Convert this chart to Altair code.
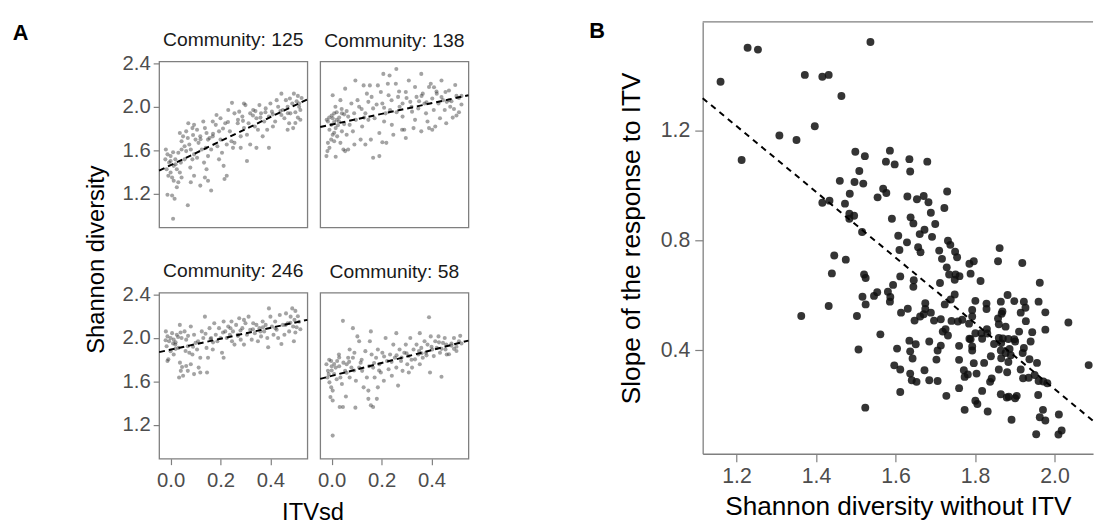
import altair as alt
import pandas as pd

# ---------------- Panel A data (ITVsd, Shannon diversity) ----------------
communities = ["125", "138", "246", "58"]

c125 = [(-0.019,1.606),(-0.0125,1.561),(-0.021,1.515),(-0.006,1.485),(-0.016,1.424),(0.0,1.394),(-0.009,1.364),
(0.006,1.348),(0.0125,1.318),(-0.0125,1.188),(0.006,1.182),(0.016,1.152),(0.01,0.968),(0.069,1.091),(0.0,1.545),
(0.019,1.515),(0.031,1.576),(0.0125,1.455),(0.025,1.424),(0.037,1.394),(0.044,1.348),(0.031,1.303),(0.025,1.258),
(0.041,1.485),(0.056,1.515),(0.044,1.606),(0.037,1.758),(0.05,1.727),(0.0625,1.773),(0.069,1.712),(0.044,1.682),
(0.056,1.636),(0.075,1.652),(0.081,1.606),(0.094,1.561),(0.0875,1.515),(0.079,1.439),(0.094,1.364),(0.081,1.303),
(0.119,1.273),(0.071,1.848),(0.094,1.833),(0.106,1.788),(0.119,1.727),(0.112,1.667),(0.125,1.606),(0.1,1.697),
(0.131,1.864),(0.1375,1.803),(0.144,1.758),(0.15,1.697),(0.141,1.621),(0.15,1.545),(0.134,1.485),(0.144,1.424),
(0.1375,1.348),(0.15,1.318),(0.1625,1.227),(0.106,1.530),(0.0875,1.803),(0.0625,1.591),(0.156,1.712),(0.169,1.727),
(0.184,1.924),(0.181,1.833),(0.194,1.773),(0.2,1.697),(0.1875,1.636),(0.206,1.576),(0.194,1.515),(0.2125,1.455),
(0.225,1.364),(0.216,1.333),(0.231,1.970),(0.246,2.036),(0.219,1.848),(0.2375,1.773),(0.244,1.682),(0.225,1.652),
(0.25,1.621),(0.169,1.864),(0.2,1.894),(0.1625,1.606),(0.256,1.939),(0.275,1.955),(0.269,1.848),(0.2875,1.909),
(0.294,1.803),(0.306,1.742),(0.281,1.727),(0.319,1.939),(0.3,2.015),(0.3125,1.848),(0.331,1.970),(0.344,1.894),
(0.3375,1.818),(0.306,1.500),(0.319,1.652),(0.281,1.621),(0.256,1.667),(0.294,2.03),(0.356,2.015),(0.3625,1.939),
(0.381,1.985),(0.394,1.909),(0.375,1.864),(0.4,2.03),(0.406,1.955),(0.419,1.864),(0.431,2.0),(0.444,1.924),
(0.394,1.621),(0.41,1.818),(0.369,1.727),(0.35,1.788),(0.387,1.788),(0.344,1.621),(0.444,2.121),(0.425,2.061),
(0.45,1.970),(0.456,1.894),(0.469,2.0),(0.475,1.848),(0.48,1.939),(0.4875,2.03),(0.491,1.803),(0.494,2.121),
(0.462,2.061),(0.478,2.076),(0.469,1.788),(0.50,1.95),(0.505,2.05),(0.51,1.9),(0.515,2.0),(0.52,1.97),(0.525,2.08),
(0.51,2.1),(0.52,1.88),(0.50,1.85),(0.515,2.03),(0.27,1.88),(0.33,1.92),(0.36,1.90),(0.41,1.93),(0.44,1.96),
(0.29,1.87),(0.38,1.95),(0.21,1.80),(0.17,1.75),(0.12,1.70),(0.09,1.74),(0.23,1.86),(0.34,1.96),(0.47,1.94),
(0.0,1.50),(0.01,1.58),(0.02,1.47)]

c138 = [(-0.021,1.545),(-0.017,1.591),(-0.009,1.621),(-0.015,1.667),(-0.002,1.697),(0.004,1.742),(-0.009,1.788),
(-0.015,1.864),(0.004,1.894),(0.01,1.939),(-0.002,1.833),(0.016,1.803),(0.022,1.727),(0.01,1.682),(0.016,1.539),
(0.004,2.106),(0.035,2.061),(0.041,1.939),(0.029,1.864),(0.041,1.773),(0.035,1.667),(0.047,1.606),(0.054,1.591),
(0.066,1.606),(0.06,1.742),(0.072,1.833),(0.066,1.909),(0.079,2.03),(0.054,2.167),(0.095,2.242),(0.085,1.773),
(0.097,1.879),(0.11,2.0),(0.1035,2.061),(0.116,1.697),(0.122,1.818),(0.135,1.939),(0.128,2.197),(0.141,2.121),
(0.147,2.045),(0.091,1.652),(0.135,1.652),(0.147,1.879),(0.153,2.197),(0.16,2.091),(0.166,1.985),(0.172,1.894),
(0.185,2.197),(0.197,2.136),(0.203,2.03),(0.21,1.864),(0.191,1.758),(0.157,1.697),(0.166,1.530),(0.191,1.545),
(0.203,1.673),(0.219,1.667),(0.207,2.303),(0.232,2.288),(0.228,2.106),(0.234,1.970),(0.241,1.833),(0.216,1.939),
(0.247,1.742),(0.225,2.212),(0.259,2.348),(0.257,2.212),(0.266,2.091),(0.272,2.0),(0.284,1.909),(0.297,2.136),
(0.309,2.242),(0.315,2.045),(0.322,1.955),(0.291,1.788),(0.282,1.788),(0.297,1.712),(0.334,1.879),(0.34,2.091),
(0.347,1.985),(0.328,1.803),(0.284,2.03),(0.334,2.182),(0.359,2.303),(0.365,2.121),(0.372,2.03),(0.378,1.939),
(0.384,1.864),(0.39,2.182),(0.397,2.212),(0.403,2.076),(0.409,1.970),(0.415,1.818),(0.421,2.121),(0.428,2.03),
(0.434,1.894),(0.44,2.242),(0.446,2.061),(0.403,1.788),(0.359,1.773),(0.39,1.803),(0.453,1.970),(0.456,2.136),
(0.459,1.848),(0.461,2.045),(0.48,2.05),(0.49,1.98),(0.50,2.1),(0.51,1.95),(0.52,2.02),(0.50,1.92),(0.47,2.15),
(0.51,2.08),(0.485,1.9),(0.52,2.1),(0.495,2.2),(0.475,2.0),(0.02,1.88),(0.06,1.96),(0.12,1.98),(0.18,2.02),
(0.24,2.06),(0.30,2.08),(0.36,2.1),(0.42,2.14),(0.05,1.84),(0.13,1.90),(0.26,1.95),(0.32,2.0),(0.38,2.04),
(0.44,2.09),(0.09,1.94),(0.21,1.99),(0.27,2.14),(0.35,2.05),(0.41,2.18),(0.47,2.06),(0.01,1.76),
(0.0,1.92),(0.01,1.86),(0.02,1.95),(0.03,1.9),(0.04,1.98),(-0.01,1.9),(0.05,1.93),(0.025,1.83),(-0.02,1.88),
(0.015,2.0)]

c246 = [(-0.019,2.061),(-0.0125,2.015),(-0.006,1.970),(-0.016,1.924),(0.0,1.879),(-0.009,1.803),(-0.0125,1.788),
(0.006,2.045),(0.0125,1.985),(0.019,1.939),(0.025,2.03),(0.031,1.909),(0.037,2.121),(0.044,2.0),(0.0375,1.773),
(0.041,1.697),(0.034,1.636),(0.05,1.652),(0.046,1.733),(0.0125,1.848),(0.056,2.061),(0.0625,1.985),(0.069,1.924),
(0.075,1.864),(0.0625,1.742),(0.069,1.697),(0.081,1.758),(0.081,2.106),(0.094,2.03),(0.1,1.955),(0.106,1.894),
(0.094,1.667),(0.1125,1.727),(0.119,1.818),(0.125,2.061),(0.131,2.0),(0.1375,2.197),(0.144,1.909),(0.15,1.818),
(0.119,1.682),(0.146,1.682),(0.0875,1.848),(0.156,2.091),(0.1625,2.0),(0.169,1.894),(0.175,2.136),(0.181,2.03),
(0.1875,1.970),(0.194,2.091),(0.2,2.0),(0.206,1.864),(0.2125,1.818),(0.2125,2.152),(0.219,2.061),(0.225,2.0),
(0.231,2.106),(0.2375,2.03),(0.244,2.152),(0.246,1.970),(0.25,2.061),(0.256,1.939),(0.2625,2.121),(0.269,2.03),
(0.275,2.182),(0.281,1.985),(0.2875,2.091),(0.294,1.939),(0.3,2.136),(0.306,2.03),(0.3125,2.197),(0.319,2.076),
(0.325,1.985),(0.331,2.136),(0.3375,2.045),(0.344,2.121),(0.35,1.970),(0.294,2.167),(0.356,2.091),(0.3625,2.015),
(0.369,2.152),(0.375,2.061),(0.381,2.121),(0.3875,2.0),(0.391,1.915),(0.394,2.273),(0.4,2.197),(0.406,2.106),
(0.4125,2.03),(0.419,2.152),(0.425,2.076),(0.431,2.0),(0.4375,2.212),(0.444,1.945),(0.45,2.121),(0.456,2.03),
(0.4625,2.227),(0.469,2.136),(0.475,2.061),(0.481,2.197),(0.4875,2.273),(0.491,2.106),(0.494,1.970),(0.4965,2.167),
(0.50,2.25),(0.51,2.2),(0.505,2.1),(0.515,2.15),(0.52,2.08),(0.50,2.05),(0.01,1.95),(0.03,2.01),(0.07,2.02),
(0.11,1.97),(0.14,2.04),(0.17,1.96),(0.21,2.05),(0.24,2.09),(0.28,2.07),(0.33,2.08),(0.37,2.1),(0.42,2.09),
(0.46,2.12),(0.09,1.92),(0.16,1.99),(0.27,2.02),(0.36,2.06),(0.48,2.14),(0.02,1.9),(0.06,1.88),
(-0.02,1.98),(0.0,2.0),(0.02,1.96),(0.04,2.05)]

c58 = [(-0.021,1.758),(-0.015,1.697),(-0.017,1.636),(-0.009,1.591),(-0.002,1.545),(0.004,1.515),(-0.005,1.455),
(0.004,1.424),(0.004,1.10),(0.01,1.667),(0.016,1.727),(0.022,1.788),(0.029,1.848),(0.035,1.636),(0.041,1.576),
(0.032,1.364),(0.045,1.364),(0.045,2.158),(0.047,1.773),(-0.002,1.788),(-0.012,1.667),(0.054,1.697),(0.06,1.758),
(0.066,1.818),(0.072,1.636),(0.079,1.727),(0.085,2.091),(0.091,1.864),(0.097,1.606),(0.103,2.015),(0.11,1.970),
(0.116,1.773),(0.122,1.697),(0.095,1.358),(0.057,1.461),(0.128,1.545),(0.135,1.879),(0.141,1.636),(0.147,1.515),
(0.072,1.894),(0.085,1.818),(0.11,1.727),(0.153,1.970),(0.157,2.061),(0.147,1.439),(0.157,1.379),(0.166,1.364),
(0.181,1.439),(0.16,1.848),(0.166,1.727),(0.172,1.636),(0.178,1.818),(0.185,1.894),(0.191,1.758),(0.197,1.682),
(0.203,1.864),(0.209,1.606),(0.216,2.0),(0.222,1.788),(0.228,1.712),(0.234,1.848),(0.241,1.652),(0.247,1.939),
(0.185,1.545),(0.259,2.045),(0.253,1.818),(0.259,1.727),(0.266,1.561),(0.272,1.894),(0.278,1.788),(0.284,1.697),
(0.291,1.864),(0.297,1.939),(0.303,1.758),(0.309,1.833),(0.315,2.0),(0.322,1.727),(0.328,1.894),(0.334,1.803),
(0.34,1.939),(0.347,1.848),(0.309,1.682),(0.353,2.045),(0.359,1.909),(0.365,1.818),(0.372,1.970),(0.378,1.864),
(0.384,1.939),(0.39,2.191),(0.394,1.682),(0.397,2.015),(0.403,1.894),(0.409,1.833),(0.415,1.970),(0.421,1.909),
(0.428,2.015),(0.434,1.864),(0.44,1.642),(0.446,1.955),(0.353,1.758),(0.453,2.0),(0.456,1.894),(0.459,1.939),
(0.461,1.848),(0.48,1.95),(0.49,2.0),(0.50,1.92),(0.51,1.97),(0.52,1.95),(0.50,1.88),(0.47,1.85),(0.515,2.02),
(0.0,1.70),(0.03,1.74),(0.07,1.78),(0.12,1.80),(0.17,1.77),(0.21,1.83),(0.26,1.84),(0.30,1.86),(0.35,1.88),
(0.40,1.92),(0.44,1.90),(0.48,1.93),(0.09,1.70),(0.15,1.74),(0.24,1.78),(0.32,1.80),(0.38,1.84),(0.43,1.96),
(0.02,1.62),(0.06,1.68),(0.19,1.70),(0.28,1.82),(0.36,1.86),(0.49,1.90),
(-0.01,1.80),(0.01,1.76),(0.03,1.82),(0.0,1.74)]

# ---------------- Panel B data (Shannon diversity without ITV, slope) ----------------
panel_b = [(1.160,1.378),(1.228,1.502),(1.254,1.495),(1.537,1.523),(1.372,1.403),(1.416,1.396),(1.432,1.403),
(1.464,1.326),(1.397,1.216),(1.308,1.182),(1.351,1.166),(1.213,1.093),(1.499,1.123),(1.523,1.107),(1.586,1.127),
(1.576,1.087),(1.598,1.077),(1.509,1.053),(1.460,1.017),(1.497,1.013),(1.519,1.007),(1.485,0.970),(1.569,0.988),
(1.577,0.973),(1.555,0.957),(1.416,0.937),(1.434,0.945),(1.473,0.934),(1.484,0.897),(1.496,0.890),(1.484,0.879),
(1.591,0.879),(1.516,0.831),(1.607,0.817),(1.635,1.096),(1.680,1.087),(1.637,1.051),(1.730,0.978),(1.630,0.960),
(1.654,0.950),(1.671,0.962),(1.683,0.939),(1.689,0.901),(1.723,0.918),(1.638,0.884),(1.645,0.862),(1.700,0.860),
(1.673,0.839),(1.661,0.823),(1.692,0.813),(1.446,0.745),(1.475,0.730),(1.657,0.775),(1.663,0.757),(1.710,0.763),
(1.717,0.733),(1.750,0.759),(1.755,0.739),(1.862,0.772),(1.797,0.724),(1.858,0.724),(1.919,0.718),(1.732,0.799),
(1.738,0.784),(1.629,0.793),(1.610,0.765),(1.440,0.680),(1.521,0.676),(1.525,0.663),(1.432,0.561),(1.363,0.525),
(1.517,0.595),(1.525,0.567),(1.546,0.598),(1.554,0.611),(1.503,0.525),(1.562,0.458),(1.507,0.403),(1.524,0.191),
(1.581,0.613),(1.586,0.577),(1.587,0.594),(1.594,0.638),(1.612,0.669),(1.614,0.537),(1.631,0.551),(1.604,0.406),
(1.597,0.345),(1.612,0.330),(1.612,0.248),(1.635,0.435),(1.651,0.422),(1.637,0.396),(1.643,0.370),(1.637,0.315),
(1.641,0.291),(1.653,0.285),(1.673,0.327),(1.685,0.291),(1.706,0.288),(1.685,0.432),(1.703,0.366),(1.706,0.399),
(1.714,0.417),(1.728,0.234),(1.760,0.262),(1.774,0.183),(1.645,0.631),(1.646,0.655),(1.648,0.508),(1.662,0.523),
(1.671,0.531),(1.675,0.571),(1.675,0.550),(1.689,0.537),(1.697,0.508),(1.712,0.645),(1.714,0.513),(1.719,0.468),
(1.726,0.477),(1.732,0.454),(1.724,0.567),(1.739,0.585),(1.749,0.603),(1.741,0.507),(1.757,0.505),(1.749,0.657),
(1.761,0.670),(1.751,0.676),(1.735,0.676),(1.729,0.702),(1.768,0.511),(1.760,0.416),(1.760,0.365),(1.772,0.327),
(1.774,0.303),(1.782,0.312),(1.786,0.715),(1.789,0.679),(1.814,0.652),(1.801,0.580),(1.793,0.547),(1.793,0.523),
(1.785,0.497),(1.786,0.442),(1.793,0.414),(1.793,0.399),(1.797,0.353),(1.804,0.315),(1.801,0.462),(1.816,0.462),
(1.818,0.442),(1.789,0.440),(1.823,0.354),(1.818,0.252),(1.801,0.216),(1.806,0.204),(1.832,0.177),(1.830,0.477),
(1.831,0.461),(1.840,0.378),(1.842,0.297),(1.838,0.285),(1.829,0.570),(1.829,0.550),(1.848,0.423),(1.858,0.516),
(1.860,0.495),(1.865,0.577),(1.869,0.541),(1.867,0.533),(1.860,0.445),(1.870,0.443),(1.866,0.426),(1.865,0.399),
(1.866,0.371),(1.860,0.330),(1.881,0.320),(1.865,0.240),(1.880,0.228),(1.885,0.231),(1.882,0.601),(1.877,0.486),
(1.884,0.441),(1.899,0.440),(1.877,0.390),(1.887,0.405),(1.884,0.357),(1.890,0.382),(1.899,0.579),(1.901,0.432),
(1.905,0.234),(1.901,0.225),(1.892,0.147),(1.911,0.468),(1.915,0.537),(1.923,0.577),(1.927,0.555),(1.928,0.506),
(1.921,0.298),(1.935,0.300),(1.937,0.367),(1.915,0.330),(1.920,0.390),(1.923,0.408),(1.944,0.466),(1.940,0.432),
(1.956,0.354),(1.950,0.310),(1.960,0.577),(1.963,0.646),(1.977,0.538),(1.977,0.475),(1.960,0.288),(1.972,0.286),
(1.982,0.280),(1.959,0.237),(1.971,0.183),(1.963,0.156),(1.977,0.144),(1.954,0.094),(2.011,0.166),(2.010,0.093),
(2.018,0.108),(2.035,0.501),(2.086,0.346)]

# ---------------- styling ----------------
FONT = "Liberation Sans"
BORDER = "#7f7f7f"
LABEL = "#4d4d4d"
TICK_FS = 20.5
TITLE_FS = 24
STRIP_FS = 19.5
B_TICK_FS = 21.5
B_TITLE_FS = 26.5

A_XDOM = [-0.046, 0.548]
A_YDOM = [0.887, 2.418]
B_XDOM = [1.115, 2.097]
B_YDOM = [0.023, 1.596]


def a_axis(values, show, pad):
    if not show:
        return None
    return alt.Axis(values=values, format=".1f", title=None, grid=False, domain=False,
                    tickColor=BORDER, tickSize=6, tickWidth=1.2, labelColor=LABEL,
                    labelFontSize=TICK_FS, labelPadding=pad)


def a_panel(pts, name, show_x, show_y):
    df = pd.DataFrame(pts, columns=["itv", "div"])
    xenc = alt.X("itv:Q", scale=alt.Scale(domain=A_XDOM, nice=False, zero=False),
                 axis=a_axis([0, 0.2, 0.4], show_x, 6))
    yenc = alt.Y("div:Q", scale=alt.Scale(domain=A_YDOM, nice=False, zero=False),
                 axis=a_axis([1.2, 1.6, 2.0, 2.4], show_y, 3))
    base = alt.Chart(df)
    pts_layer = base.mark_circle(size=17, color="#333333", opacity=0.45).encode(x=xenc, y=yenc)
    line = (base.transform_regression("itv", "div", extent=A_XDOM)
            .mark_line(color="black", strokeDash=[6, 4], strokeWidth=2)
            .encode(x=xenc, y=yenc))
    # panels without a y axis need a larger title offset so all strip titles sit level
    return alt.layer(pts_layer, line).properties(
        width=150, height=168,
        title=alt.TitleParams(f"Community: {name}", fontSize=STRIP_FS, fontWeight="normal",
                              color="#1a1a1a", offset=3 if show_y else 10, anchor="middle"))


p1 = a_panel(c125, communities[0], False, True)
p2 = a_panel(c138, communities[1], False, False)
p3 = a_panel(c246, communities[2], True, True)
p4 = a_panel(c58, communities[3], True, False)

row1 = alt.hconcat(p1, p2, spacing=3)
row2 = alt.hconcat(p3, p4, spacing=3).properties(
    title=alt.TitleParams("ITVsd", orient="bottom", anchor="middle", fontSize=TITLE_FS,
                          fontWeight="normal", color="black", offset=10, dx=16))
a_inner = alt.vconcat(row1, row2, spacing=32).properties(
    title=alt.TitleParams("Shannon diversity", orient="left", anchor="middle", fontSize=TITLE_FS,
                          fontWeight="normal", color="black", offset=13, dx=18))
a_outer = alt.vconcat(a_inner).properties(
    title=alt.TitleParams("A", anchor="start", frame="bounds", fontSize=22, fontWeight="bold",
                          color="black", offset=-15, dx=-73))

# invisible 1px anchor so that the top of panel B lines up with the top of the figure
anchor_df = pd.DataFrame({"k": [0]})
anchor = alt.Chart(anchor_df).mark_point(opacity=0).encode(
    x=alt.X("k:Q", axis=None), y=alt.Y("k:Q", axis=None)).properties(
    width=1, height=1, view=alt.ViewBackground(strokeOpacity=0))
a_wrap = alt.vconcat(anchor, a_outer, spacing=-5)

# ---------------- Panel B ----------------
dfb = pd.DataFrame(panel_b, columns=["shannon", "slope"])
bx = alt.Scale(domain=B_XDOM, nice=False, zero=False)
by = alt.Scale(domain=B_YDOM, nice=False, zero=False)
b_xaxis = alt.Axis(values=[1.2, 1.4, 1.6, 1.8, 2.0], format=".1f", title="Shannon diversity without ITV",
                   grid=False, domainColor=BORDER, domainWidth=1.3, tickColor=BORDER, tickSize=8,
                   tickWidth=1.2, labelColor=LABEL, labelFontSize=B_TICK_FS, labelPadding=4,
                   titleFontSize=B_TITLE_FS, titleFontWeight="normal", titleColor="black", titlePadding=7)
b_yaxis = alt.Axis(values=[0.4, 0.8, 1.2], format=".1f", title="Slope of the response to ITV",
                   grid=False, domainColor=BORDER, domainWidth=1.3, tickColor=BORDER, tickSize=8,
                   tickWidth=1.2, labelColor=LABEL, labelFontSize=B_TICK_FS, labelPadding=5,
                   titleFontSize=B_TITLE_FS, titleFontWeight="normal", titleColor="black", titlePadding=15)

bbase = alt.Chart(dfb)
b_pts = bbase.mark_circle(size=64, color="#111111", opacity=0.85).encode(
    x=alt.X("shannon:Q", scale=bx, axis=b_xaxis), y=alt.Y("slope:Q", scale=by, axis=b_yaxis))
b_line = (bbase.transform_regression("shannon", "slope", extent=B_XDOM)
          .mark_line(color="black", strokeDash=[6, 5], strokeWidth=2)
          .encode(x=alt.X("shannon:Q", scale=bx, axis=b_xaxis), y=alt.Y("slope:Q", scale=by, axis=b_yaxis)))
# top frame line of panel B, drawn at the upper end of the y domain
b_frame = alt.Chart(anchor_df).mark_rule(color=BORDER, strokeWidth=1.3).encode(
    x=alt.datum(B_XDOM[0]), x2=alt.datum(B_XDOM[1]), y=alt.datum(B_YDOM[1]))

panel_b_chart = alt.layer(b_pts, b_line, b_frame).properties(
    width=395, height=437,
    view=alt.ViewBackground(strokeOpacity=0),
    title=alt.TitleParams("B", anchor="start", frame="bounds", fontSize=22, fontWeight="bold",
                          color="black", offset=-22, dx=-30))

chart = alt.hconcat(a_wrap, panel_b_chart, spacing=117,
                    padding={"left": 12, "top": 16, "right": 0, "bottom": 2}).configure(
    font=FONT).configure_view(stroke=BORDER, strokeWidth=1.3)

chart.save("out.html", embed_options={"renderer": "svg", "actions": False})
